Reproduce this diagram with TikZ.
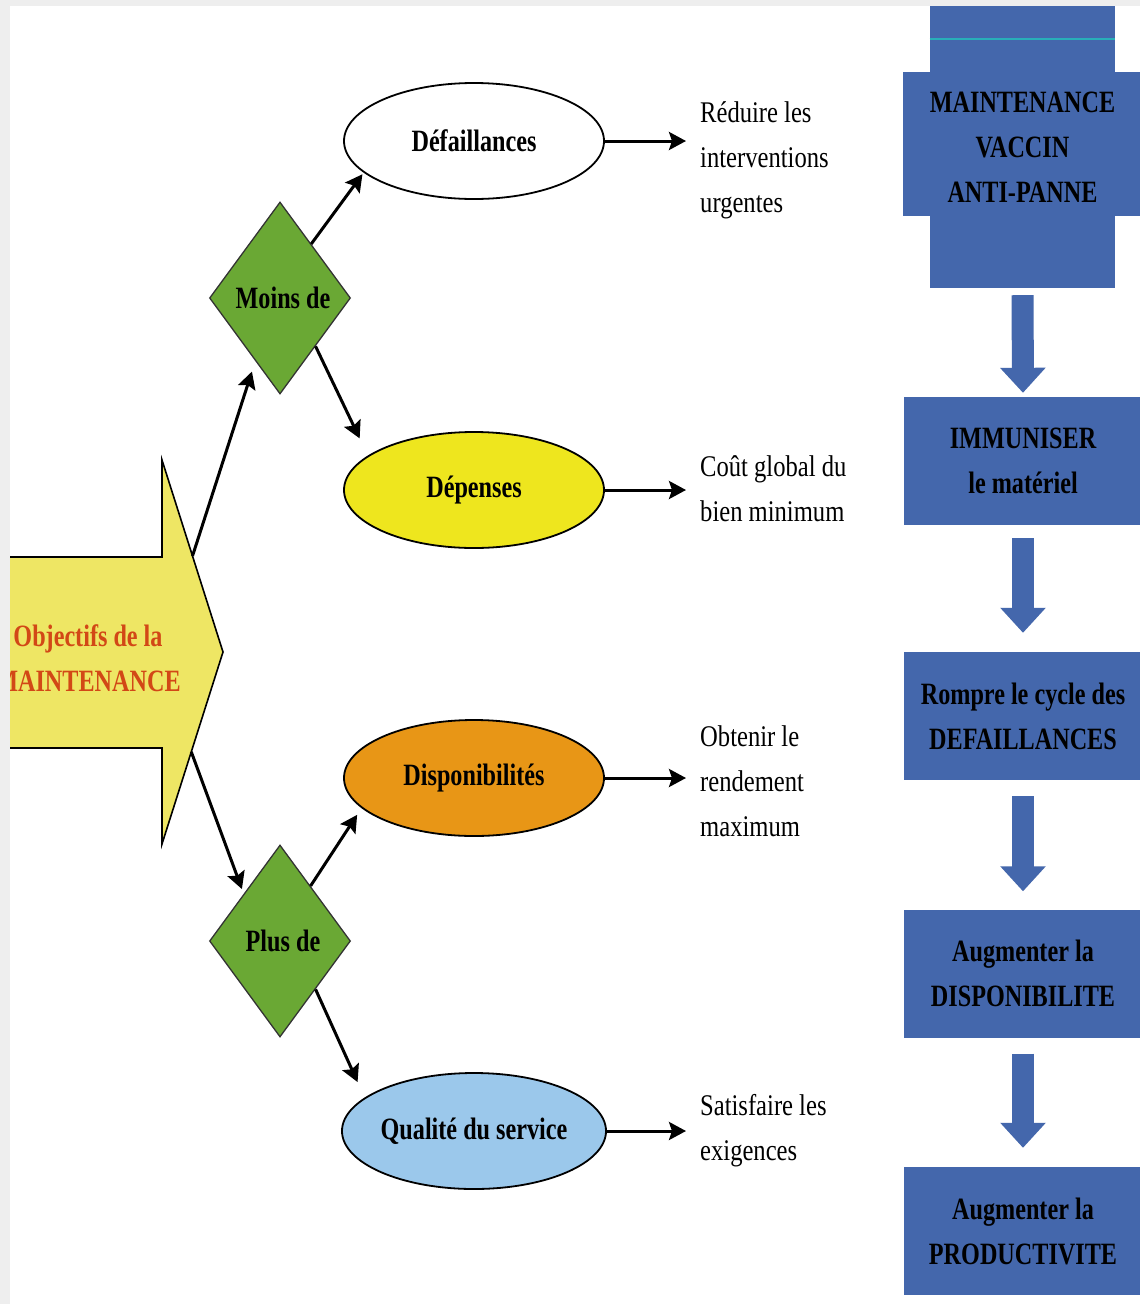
\documentclass[tikz,border=0pt]{standalone}
\usepackage{fontspec}
\setmainfont{Liberation Serif}[FakeStretch=0.82]
\newfontfamily\bdfont{Liberation Serif}[FakeStretch=0.78]
\usetikzlibrary{shapes.geometric,arrows.meta,calc}
\definecolor{vblue}{RGB}{68,103,172}
\definecolor{tealc}{RGB}{40,175,185}
\definecolor{dgreen}{RGB}{106,168,52}
\definecolor{ayellow}{RGB}{238,230,100}
\definecolor{eyellow}{RGB}{238,230,30}
\definecolor{eorange}{RGB}{232,150,22}
\definecolor{eblue}{RGB}{155,200,235}
\definecolor{ored}{RGB}{210,72,22}
\definecolor{framec}{RGB}{238,238,238}
\tikzset{
  txt/.style={font=\fontsize{30}{45}\selectfont, align=left, inner sep=0pt, anchor=west},
  bd/.style={font=\bdfont\bfseries\fontsize{31}{45}\selectfont},
  ell/.style={ellipse, draw=black, line width=1.8pt, minimum width=260pt, minimum height=116pt, inner sep=0pt, bd},
  dia/.style={diamond, draw=black!80, line width=1.3pt, fill=dgreen, aspect=0.74, minimum width=141pt, minimum height=192pt, inner sep=0pt, bd},
  arr/.style={line width=3pt, -{Stealth[length=17pt,width=18pt,inset=3pt]}},
  box/.style={rectangle, fill=vblue, minimum width=238pt, minimum height=128pt, inner sep=0pt, bd, align=center},
  barr/.style={draw=vblue, line width=22pt, -{Triangle[length=25pt,width=44pt]}}
}
\begin{document}
\begin{tikzpicture}[x=1pt,y=-1pt]
\useasboundingbox (0,0) rectangle (1140,1304);
\clip (0,0) rectangle (1140,1304);
\fill[white] (0,0) rectangle (1140,1304);

% big arrow
\coordinate (htop) at (162,460);
\coordinate (tip) at (223,652);
\coordinate (hbot) at (162,844);
\draw[fill=ayellow, line width=1.6pt, line join=miter] (-20,557) -- (162,557) -- (htop) -- (tip) -- (hbot) -- (162,748) -- (-20,748);
\node[bd, text=ored, align=center] (obj) at (88,658) {Objectifs de la\\MAINTENANCE};

% diamonds
\node[dia] (moins) at (280,298) {\hspace*{6pt}Moins de};
\node[dia] (plus) at (280,941) {\hspace*{6pt}Plus de};

% ellipses
\node[ell, fill=white] (defa) at (474,141) {Défaillances};
\node[ell, fill=eyellow] (dep) at (474,490) {Dépenses};
\node[ell, fill=eorange] (dispo) at (474,778) {Disponibilités};
\node[ell, fill=eblue] (qual) at (474,1131) {Qualité du service};

% connectors left
\draw[arr, shorten >=11pt] ($(htop)!0.5!(tip)$) -- ($(moins.south)!0.347!(moins.west)$);
\draw[arr, shorten >=5pt] ($(tip)!0.52!(hbot)$) -- ($(plus.north)!0.511!(plus.west)$);
\draw[arr, shorten >=2pt] ($(moins.north)!0.44!(moins.east)$) -- (defa.196);
\draw[arr, shorten >=19pt] ($(moins.east)!0.5!(moins.south)$) -- (dep.162.3);
\draw[arr, shorten >=8pt] ($(plus.north)!0.43!(plus.east)$) -- (dispo.195);
\draw[arr, shorten >=17pt] ($(plus.east)!0.5!(plus.south)$) -- (qual.163.3);

% right texts
\coordinate (e1) at (686,141);
\coordinate (e2) at (686,490);
\coordinate (e3) at (686,778);
\coordinate (e4) at (686,1131);
\draw[arr] (defa.east) -- (e1);
\draw[arr] (dep.east) -- (e2);
\draw[arr] (dispo.east) -- (e3);
\draw[arr] (qual.east) -- (e4);
\node[txt] (t1) at (700,160) {Réduire les\\interventions\\urgentes};
\node[txt] (t2) at (700,489) {Coût global du\\bien minimum};
\node[txt] (t3) at (700,781) {Obtenir le\\rendement\\maximum};
\node[txt] (t4) at (700,1131) {Satisfaire les\\exigences};

% right column
\fill[vblue] (903,72) rectangle (1145,216);
\node[box, minimum width=149pt, minimum height=282pt] (cross) at (1022.5,147) {MAINTENANCE\\VACCIN\\ANTI-PANNE};
\draw[tealc, line width=1.5pt] ($(cross.north west)+(0,33)$) -- ($(cross.north east)+(0,33)$);
\node[box] (b2) at (1023,461) {IMMUNISER\\le matériel};
\node[box] (b3) at (1023,716) {Rompre le cycle des\\DEFAILLANCES};
\node[box] (b4) at (1023,973.5) {Augmenter la\\DISPONIBILITE};
\node[box] (b5) at (1023,1231) {Augmenter la\\PRODUCTIVITE};
\draw[barr, shorten <=7pt, shorten >=4pt] (cross.south) -- (b2.north);
\draw[barr, shorten <=13pt, shorten >=19pt] (b2.south) -- (b3.north);
\draw[barr, shorten <=16pt, shorten >=18pt] (b3.south) -- (b4.north);
\draw[barr, shorten <=16pt, shorten >=19pt] (b4.south) -- (b5.north);

% frame
\fill[framec] (0,0) rectangle (1140,6);
\fill[framec] (0,0) rectangle (10,1304);
\end{tikzpicture}
\end{document}
